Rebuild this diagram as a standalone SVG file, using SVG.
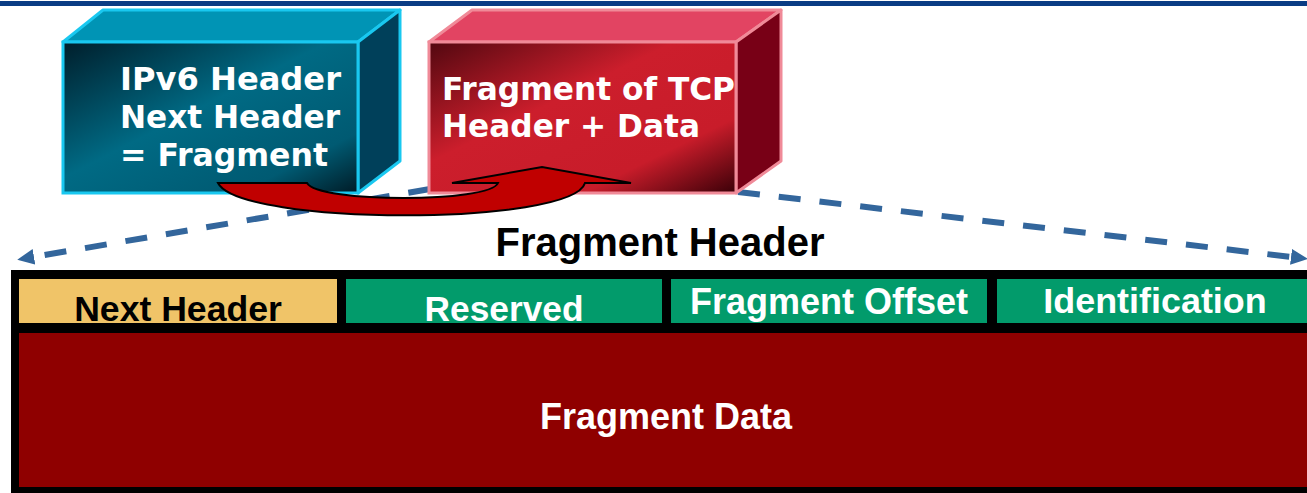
<svg xmlns="http://www.w3.org/2000/svg" width="1307" height="493" viewBox="0 0 1307 493">
<defs>
<linearGradient id="gBlue" x1="0" y1="0" x2="1" y2="1">
<stop offset="0" stop-color="#001e2b"/>
<stop offset="0.45" stop-color="#006a84"/>
<stop offset="0.8" stop-color="#005a72"/>
<stop offset="1" stop-color="#001b26"/>
</linearGradient>
<linearGradient id="gRed" x1="0" y1="0" x2="1" y2="1">
<stop offset="0" stop-color="#520810"/>
<stop offset="0.4" stop-color="#cc1e2c"/>
<stop offset="0.75" stop-color="#c81c2a"/>
<stop offset="1" stop-color="#3a0008"/>
</linearGradient>
<marker id="ah" markerUnits="userSpaceOnUse" markerWidth="18" markerHeight="18" refX="1" refY="8" orient="auto">
<path d="M0,0 L17,8 L0,16 Z" fill="#33669c"/>
</marker>
<style>
.box3d{font-family:"DejaVu Sans",Verdana,sans-serif;font-weight:bold;font-size:32px;fill:#fff}
.cell{font-family:"Liberation Sans",Arial,sans-serif;font-weight:bold;text-anchor:middle}
.dash{fill:none;stroke:#33669c;stroke-width:6;stroke-dasharray:22 19}
</style>
</defs>
<rect x="0" y="1" width="1307" height="5" fill="#0a3c84"/>
<g id="connectors">
<path class="dash" d="M430,189 L33,257" marker-end="url(#ah)"/>
<path class="dash" d="M738,192 L1292,257" marker-end="url(#ah)"/>
</g>
<g id="ipv6-header">
<polygon points="63,42 103,10 400,10 358,42" fill="#0094b5" stroke="#19c8f0" stroke-width="3" stroke-linejoin="round"/>
<polygon points="358,42 400,10 400,161 358,193" fill="#00405a" stroke="#19c8f0" stroke-width="3" stroke-linejoin="round"/>
<rect x="63" y="42" width="295" height="151" fill="url(#gBlue)" stroke="#19c8f0" stroke-width="3"/>
<text class="box3d" x="120" y="90" textLength="221" lengthAdjust="spacingAndGlyphs">IPv6 Header</text>
<text class="box3d" x="120" y="128" textLength="220" lengthAdjust="spacingAndGlyphs">Next Header</text>
<text class="box3d" x="120" y="166" textLength="208" lengthAdjust="spacingAndGlyphs">= Fragment</text>
</g>
<g id="tcp-fragment">
<polygon points="429,42 472,10 781,10 736,42" fill="#e24462" stroke="#f08a98" stroke-width="3" stroke-linejoin="round"/>
<polygon points="736,42 781,10 781,161 736,193" fill="#780016" stroke="#f08a98" stroke-width="3" stroke-linejoin="round"/>
<rect x="429" y="42" width="307" height="151" fill="url(#gRed)" stroke="#f08a98" stroke-width="3"/>
<text class="box3d" x="442" y="100" textLength="293" lengthAdjust="spacingAndGlyphs">Fragment of TCP</text>
<text class="box3d" x="442" y="137" textLength="258" lengthAdjust="spacingAndGlyphs">Header + Data</text>
</g>
<g id="curved-arrow">
<path d="M218,183 L307,183 C318,203 490,203 498,183 L452,183 L542,167 L631,183 L585,183 C572,226 240,226 218,183 Z" fill="#c00000" stroke="#000" stroke-width="2" stroke-linejoin="miter"/>
</g>
<g id="title">
<text class="cell" x="660" y="256" font-size="40" fill="#000">Fragment Header</text>
</g>
<g id="fragment-header-table">
<rect x="11" y="270" width="1310" height="223" fill="#000"/>
<g id="next-header">
<rect x="19" y="279" width="318" height="44" fill="#f0c468"/>
<text class="cell" x="178" y="321" font-size="35.6" fill="#000">Next Header</text>
</g>
<g id="reserved">
<rect x="346" y="279" width="316" height="44" fill="#029b6b"/>
<text class="cell" x="504" y="321" font-size="35.3" fill="#fff">Reserved</text>
</g>
<g id="fragment-offset">
<rect x="671" y="279" width="316" height="44" fill="#029b6b"/>
<text class="cell" x="829" y="314" font-size="36" fill="#fff">Fragment Offset</text>
</g>
<g id="identification">
<rect x="997" y="279" width="320" height="44" fill="#029b6b"/>
<text class="cell" x="1155" y="313" font-size="35.9" fill="#fff">Identification</text>
</g>
<g id="fragment-data">
<rect x="19" y="333" width="1300" height="154" fill="#8f0000"/>
<text class="cell" x="666" y="429" font-size="36" fill="#fff">Fragment Data</text>
</g>
</g>
</svg>
